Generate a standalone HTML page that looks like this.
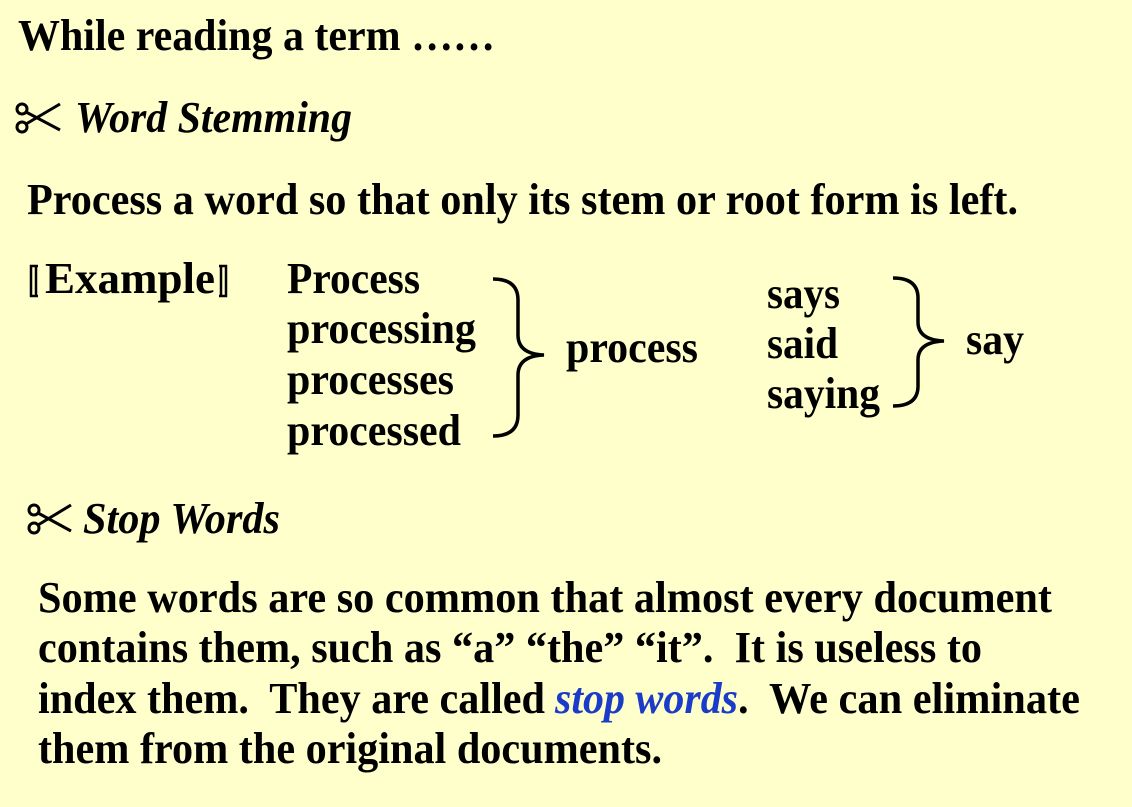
<!DOCTYPE html>
<html><head><meta charset="utf-8"><style>
html,body{margin:0;padding:0;background:#FFFFCC;}
svg{display:block}
text{font-family:"Liberation Serif","Noto Serif CJK SC",serif;font-weight:bold;fill:#000;font-size:44px;white-space:pre}
.i{font-style:italic}
</style></head><body>
<svg width="1132" height="807" viewBox="0 0 1132 807" xmlns="http://www.w3.org/2000/svg">
<rect width="1132" height="807" fill="#FFFFCC"/>
<text x="18" y="50" textLength="477" lengthAdjust="spacingAndGlyphs">While reading a term ……</text>
<g fill="none" stroke="#000" stroke-width="3">
 <circle cx="22" cy="109" r="5"/><circle cx="22" cy="127" r="5"/>
 <path d="M26 112 L60 130 M26 124 L60 104"/>
</g>
<text class="i" x="75" y="132" textLength="277" lengthAdjust="spacingAndGlyphs">Word Stemming</text>
<text x="27" y="214" textLength="991" lengthAdjust="spacingAndGlyphs">Process a word so that only its stem or root form is left.</text>
<g fill="none" stroke="#000" stroke-width="2.5">
 <path d="M38 266 L31 266 L31 296 L38 296 M36 266 L36 296"/>
 <path d="M219 266 L226 266 L226 296 L219 296 M221 266 L221 296"/>
</g>
<text x="45" y="293" textLength="170" lengthAdjust="spacingAndGlyphs">Example</text>
<text x="287" y="293" textLength="133" lengthAdjust="spacingAndGlyphs">Process</text>
<text x="287" y="343" textLength="189" lengthAdjust="spacingAndGlyphs">processing</text>
<text x="287" y="394" textLength="167" lengthAdjust="spacingAndGlyphs">processes</text>
<text x="287" y="445" textLength="174" lengthAdjust="spacingAndGlyphs">processed</text>
<text x="566" y="362" textLength="132" lengthAdjust="spacingAndGlyphs">process</text>
<text x="767" y="308" textLength="73" lengthAdjust="spacingAndGlyphs">says</text>
<text x="767" y="358" textLength="71" lengthAdjust="spacingAndGlyphs">said</text>
<text x="767" y="408" textLength="113" lengthAdjust="spacingAndGlyphs">saying</text>
<text x="966" y="354" textLength="58" lengthAdjust="spacingAndGlyphs">say</text>
<g fill="none" stroke="#000" stroke-width="3.5">
 <path d="M493 279 Q518 279 518 300 L518 335 Q518 354 544 355 Q518 356 518 375 L518 415 Q518 436 493 436"/>
 <path d="M893 278 Q918 278 918 298 L918 322 Q918 340 944 341 Q918 342 918 360 L918 386 Q918 406 893 406"/>
</g>
<g fill="none" stroke="#000" stroke-width="3">
 <circle cx="34" cy="510" r="5"/><circle cx="34" cy="528" r="5"/>
 <path d="M38 513 L71 531 M38 525 L71 505"/>
</g>
<text class="i" x="83" y="533" textLength="197" lengthAdjust="spacingAndGlyphs">Stop Words</text>
<text x="38" y="612" textLength="1014" lengthAdjust="spacingAndGlyphs">Some words are so common that almost every document</text>
<text x="38" y="662" textLength="944" lengthAdjust="spacingAndGlyphs">contains them, such as “a” “the” “it”.  It is useless to</text>
<text x="38" y="713" textLength="507" lengthAdjust="spacingAndGlyphs">index them.  They are called</text>
<text class="i" x="555" y="713" textLength="183" lengthAdjust="spacingAndGlyphs" style="fill:#1A3CC8">stop words</text>
<text x="738" y="713" textLength="342" lengthAdjust="spacingAndGlyphs">.  We can eliminate</text>
<text x="38" y="763" textLength="624" lengthAdjust="spacingAndGlyphs">them from the original documents.</text>
</svg>
</body></html>
